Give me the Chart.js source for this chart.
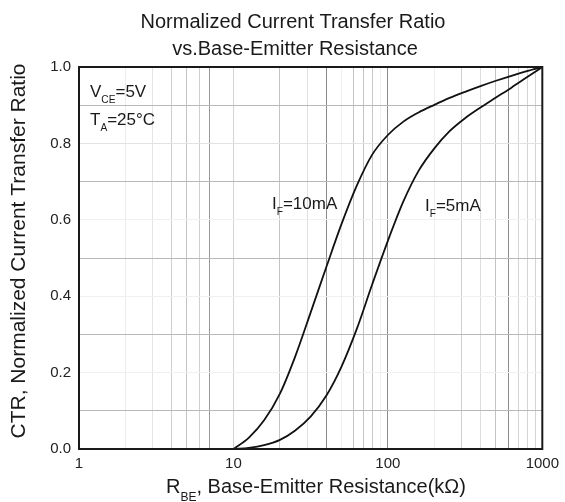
<!DOCTYPE html>
<html>
<head>
<meta charset="utf-8">
<script src="https://cdn.jsdelivr.net/npm/chart.js@4/dist/chart.umd.min.js"></script>
<style>
  body { margin: 0; background: #fff; }
  #wrap { width: 565px; height: 502px; position: relative; }
</style>
</head>
<body>
<div id="wrap"><canvas id="ctrChart"></canvas></div>
<script>
// R_BE in kOhm, normalized CTR
let rbe = [10, 12.6, 15.8, 20, 25, 31.6, 40, 50, 63, 79, 100, 126, 158, 200, 251, 316, 398, 501, 631, 794, 1000];
let ctr10 = [0, 0.03, 0.075, 0.145, 0.24, 0.357, 0.477, 0.588, 0.69, 0.77, 0.822, 0.857, 0.881, 0.901, 0.919, 0.935, 0.95, 0.964, 0.977, 0.989, 1.0];
let ctr5 = [0, 0.003, 0.01, 0.024, 0.048, 0.085, 0.14, 0.215, 0.315, 0.43, 0.545, 0.648, 0.728, 0.787, 0.832, 0.866, 0.894, 0.92, 0.946, 0.973, 1.0];
let xTickLabels = [1, 10, 100, 1000];
let yTickLabels = [0, 0.2, 0.4, 0.6, 0.8, 1.0];

const FONT = '"Liberation Sans", Arial, sans-serif';

// scanned grid: some lines darker than others
const xGridColors = {
  2: '#ececec', 3: '#e4e4e4', 4: '#cfcfcf', 5: '#c4c4c4', 6: '#cfcfcf', 7: '#999', 8: 'rgba(0,0,0,0)', 9: 'rgba(0,0,0,0)',
  10: '#d4d4d4', 20: '#c4c4c4', 30: '#e0e0e0', 40: '#8c8c8c', 50: '#f0f0f0', 60: '#c4c4c4', 70: '#c4c4c4', 80: '#c8c8c8', 90: '#eeeeee',
  100: '#8c8c8c', 200: '#eeeeee', 300: '#cfcfcf', 400: '#dddddd', 500: '#c4c4c4', 600: '#8c8c8c', 700: '#d4d4d4', 800: '#d4d4d4', 900: '#d4d4d4'
};

function drawParts(ctx, parts, x, y, size) {
  let cx = x;
  parts.forEach(p => {
    let s = p[1] ? size * 0.6 : size;
    ctx.font = s + 'px ' + FONT;
    ctx.fillText(p[0], cx, p[1] ? y + size * 0.38 : y);
    cx += ctx.measureText(p[0]).width;
  });
}

const textPlugin = {
  id: 'texts',
  afterDraw(chart) {
    const ctx = chart.ctx;
    const a = chart.chartArea;
    ctx.save();
    ctx.strokeStyle = '#1a1a1a';
    ctx.lineWidth = 2;
    ctx.strokeRect(a.left, a.top, a.right - a.left, a.bottom - a.top);

    ctx.fillStyle = '#1a1a1a';
    ctx.textBaseline = 'alphabetic';
    ctx.textAlign = 'center';
    ctx.font = '20px ' + FONT;
    ctx.fillText('Normalized Current Transfer Ratio', 293, 28);
    ctx.fillText('vs.Base-Emitter Resistance', 295, 55);

    ctx.save();
    ctx.translate(25, 251);
    ctx.rotate(-Math.PI / 2);
    ctx.font = '21px ' + FONT;
    ctx.fillText('CTR, Normalized Current Transfer Ratio', 0, 0);
    ctx.restore();

    ctx.textAlign = 'left';
    drawParts(ctx, [['R', false], ['BE', true], [', Base-Emitter Resistance(k\u03A9)', false]], 166, 493, 20);
    drawParts(ctx, [['V', false], ['CE', true], ['=5V', false]], 90, 97, 17);
    drawParts(ctx, [['T', false], ['A', true], ['=25\u00B0C', false]], 90, 125, 17);
    drawParts(ctx, [['I', false], ['F', true], ['=10mA', false]], 272, 209, 17);
    drawParts(ctx, [['I', false], ['F', true], ['=5mA', false]], 425, 211, 17);
    ctx.restore();
  }
};

let ctx = document.getElementById('ctrChart').getContext('2d');

new Chart(ctx, {
  type: 'line',
  data: {
    datasets: [
      {
        label: 'IF=10mA',
        data: rbe.map((x, i) => ({ x: x, y: ctr10[i] })),
        borderColor: '#111',
        borderWidth: 1.8,
        pointRadius: 0,
        cubicInterpolationMode: 'monotone'
      },
      {
        label: 'IF=5mA',
        data: rbe.map((x, i) => ({ x: x, y: ctr5[i] })),
        borderColor: '#111',
        borderWidth: 1.8,
        pointRadius: 0,
        cubicInterpolationMode: 'monotone'
      }
    ]
  },
  options: {
    responsive: true,
    maintainAspectRatio: false,
    animation: false,
    layout: { padding: { top: 67, right: 17, left: 0, bottom: 0 } },
    plugins: {
      legend: { display: false },
      tooltip: { enabled: false }
    },
    scales: {
      x: {
        type: 'logarithmic',
        min: 1,
        max: 1000,
        afterFit: s => { s.height = 53; },
        border: { display: false },
        grid: {
          drawTicks: false,
          lineWidth: 1,
          color: c => {
            if (!c.tick) return 'rgba(0,0,0,0)';
            let v = Math.round(c.tick.value);
            return xGridColors[v] || 'rgba(0,0,0,0)';
          }
        },
        ticks: {
          autoSkip: false,
          maxRotation: 0,
          padding: 6,
          color: '#222',
          font: { family: FONT, size: 15 },
          callback: v => xTickLabels.includes(Math.round(v)) ? String(Math.round(v)) : ''
        }
      },
      y: {
        min: 0,
        max: 1,
        afterFit: s => { s.width = 79; },
        border: { display: false },
        grid: {
          drawTicks: false,
          lineWidth: 1,
          color: c => {
            let k = Math.round(c.tick.value * 10);
            if (k % 2 === 1) return '#b8b8b8';
            if (k === 8) return '#e2e2e2';
            return '#f0f0f0';
          }
        },
        ticks: {
          stepSize: 0.1,
          padding: 8,
          color: '#222',
          font: { family: FONT, size: 15 },
          callback: v => yTickLabels.some(t => Math.abs(t - v) < 1e-6) ? v.toFixed(1) : ''
        }
      }
    }
  },
  plugins: [textPlugin]
});
</script>
</body>
</html>
